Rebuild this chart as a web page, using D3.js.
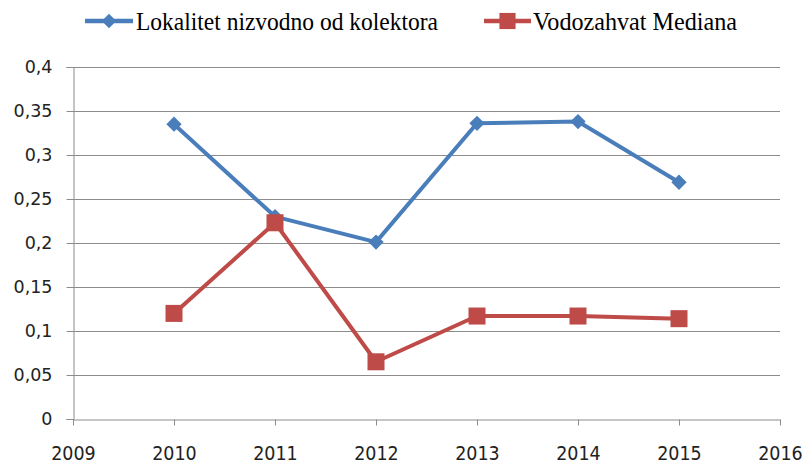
<!DOCTYPE html>
<html>
<head>
<meta charset="utf-8">
<script src="https://cdn.jsdelivr.net/npm/d3@7"></script>
<style>
  html, body { margin: 0; padding: 0; background: #fff; }
  svg { display: block; }
</style>
</head>
<body>
<svg id="chart" width="805" height="466"></svg>
<script>
// Data
const years = [2010, 2011, 2012, 2013, 2014, 2015];
const lokalitet = [0.335, 0.23, 0.201, 0.336, 0.338, 0.269];
const vodozahvat = [0.12, 0.223, 0.065, 0.117, 0.117, 0.114];
const seriesNames = ["Lokalitet nizvodno od kolektora", "Vodozahvat Mediana"];
const yTicks = [0, 0.05, 0.1, 0.15, 0.2, 0.25, 0.3, 0.35, 0.4];
const xTicks = [2009, 2010, 2011, 2012, 2013, 2014, 2015, 2016];

const colors = ["#4a7ebb", "#be4b48"];
const svg = d3.select("#chart");

const x = d3.scaleLinear().domain([2009, 2016]).range([73, 780]);
const y = d3.scaleLinear().domain([0, 0.4]).range([419, 67]);

const fmt = v => String(v).replace(".", ",");
const labelFont = "'DejaVu Sans', sans-serif";

// Horizontal gridlines
svg.append("g")
  .selectAll("line")
  .data(yTicks.filter(t => t > 0))
  .join("line")
  .attr("x1", x(2009)).attr("x2", x(2016))
  .attr("y1", d => Math.round(y(d)) + 0.5).attr("y2", d => Math.round(y(d)) + 0.5)
  .attr("stroke", "#8c8c8c").attr("stroke-width", 1);

// Y axis
const yAxis = svg.append("g")
  .attr("transform", `translate(${x(2009) + 0.5},0)`)
  .call(d3.axisLeft(y).tickValues(yTicks).tickFormat(fmt).tickSize(7).tickPadding(14));
yAxis.selectAll("path, line").attr("stroke", "#8c8c8c");
yAxis.selectAll("text")
  .attr("font-family", labelFont)
  .attr("font-size", 17.5).attr("fill", "#222");
yAxis.selectAll(".tick").attr("transform", d => `translate(0,${Math.round(y(d)) + 0.5})`);

// X axis (year labels drawn slightly taller than wide)
const xAxis = svg.append("g")
  .attr("transform", `translate(0,${Math.round(y(0)) + 0.5})`)
  .call(d3.axisBottom(x).tickValues(xTicks).tickFormat(d3.format("d")).tickSize(6).tickSizeOuter(0));
xAxis.selectAll("path, line").attr("stroke", "#8c8c8c");
xAxis.selectAll("text")
  .attr("font-family", labelFont)
  .attr("font-size", 17.5).attr("fill", "#222")
  .attr("y", 0).attr("dy", null)
  .attr("transform", "translate(0,40.5) scale(1,1.15)");

// Series lines and markers
const data = [lokalitet, vodozahvat];
const line = d3.line().x((d, i) => x(years[i])).y(d => y(d));

data.forEach((vals, s) => {
  svg.append("path")
    .datum(vals)
    .attr("d", line)
    .attr("fill", "none")
    .attr("stroke", colors[s])
    .attr("stroke-width", 4)
    .attr("stroke-linejoin", "round");
});

function drawMarker(g, s, cx, cy, scale) {
  if (s === 0) {
    g.append("path")
      .attr("d", d3.symbol().type(d3.symbolDiamond2).size(150 * scale * scale)())
      .attr("transform", `translate(${cx},${cy})`)
      .attr("fill", colors[0]);
  } else {
    const h = 8.5 * scale;
    g.append("rect")
      .attr("x", cx - h).attr("y", cy - h)
      .attr("width", 2 * h).attr("height", 2 * h)
      .attr("fill", colors[1]);
  }
}

data.forEach((vals, s) => {
  const g = svg.append("g");
  vals.forEach((v, i) => drawMarker(g, s, x(years[i]), y(v), 1));
});

// Legend
const legend = [
  { x1: 85, x2: 133, tx: 136, w: 302 },
  { x1: 484, x2: 531, tx: 533, w: 204 }
];
legend.forEach((l, s) => {
  const g = svg.append("g");
  g.append("line")
    .attr("x1", l.x1).attr("x2", l.x2)
    .attr("y1", 21).attr("y2", 21)
    .attr("stroke", colors[s]).attr("stroke-width", 4.5);
  drawMarker(g, s, (l.x1 + l.x2) / 2, 21, 0.95);
  g.append("text")
    .attr("x", l.tx).attr("y", 30)
    .attr("font-family", "'Liberation Serif', serif")
    .attr("font-size", 25)
    .attr("textLength", l.w)
    .attr("lengthAdjust", "spacingAndGlyphs")
    .attr("fill", "#000")
    .text(seriesNames[s]);
});
</script>
</body>
</html>
